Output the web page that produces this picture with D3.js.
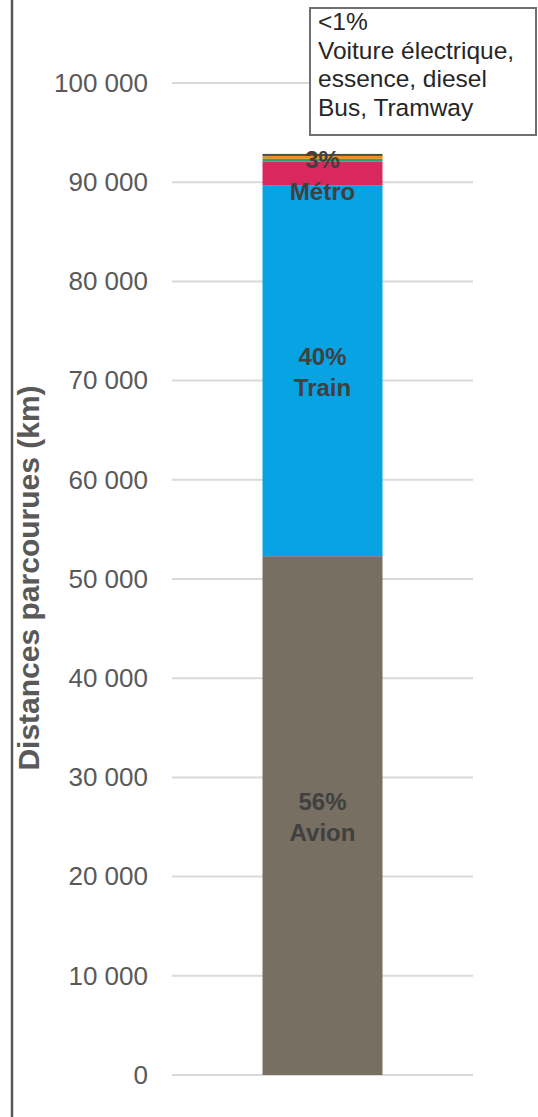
<!DOCTYPE html>
<html>
<head>
<meta charset="utf-8">
<script src="https://cdn.jsdelivr.net/npm/d3@7"></script>
<style>
  body { margin: 0; background: #fff; }
  text { font-family: "Liberation Sans", Arial, sans-serif; }
</style>
</head>
<body>
<script>
// data (km)
var modes = ["Avion", "Train", "Métro", "Bus", "Tramway", "Voiture"];
var distances = [52300, 37400, 2400, 250, 300, 200];
var colors = ["#776f62", "#07a3e2", "#d8285e", "#22a37c", "#e5921f", "#4b4943"];
var yTicks = [0, 10000, 20000, 30000, 40000, 50000, 60000, 70000, 80000, 90000, 100000];

var svgWidth = 538;
var svgHeight = 1117;

var chartMargin = { top: 83, right: 65, bottom: 42, left: 172 };
var chartWidth = svgWidth - chartMargin.left - chartMargin.right;
var chartHeight = svgHeight - chartMargin.top - chartMargin.bottom;

var svg = d3.select("body")
  .append("svg")
  .attr("width", svgWidth)
  .attr("height", svgHeight);

// left frame line
svg.append("line")
  .attr("x1", 12).attr("x2", 12)
  .attr("y1", 0).attr("y2", svgHeight)
  .attr("stroke", "#5e5555")
  .attr("stroke-width", 2.5);

var chartGroup = svg.append("g")
  .attr("transform", `translate(${chartMargin.left}, ${chartMargin.top})`);

var fr = d3.formatLocale({ decimal: ",", thousands: " ", grouping: [3], currency: ["", " €"] });

var xBandScale = d3.scaleBand()
  .domain(["total"])
  .range([0, chartWidth])
  .padding(0.43);

var yLinearScale = d3.scaleLinear()
  .domain([0, 100000])
  .range([chartHeight, 0]);

// gridlines
chartGroup.selectAll(".grid")
  .data(yTicks)
  .enter()
  .append("line")
  .attr("class", "grid")
  .attr("x1", 0)
  .attr("x2", chartWidth)
  .attr("y1", d => yLinearScale(d))
  .attr("y2", d => yLinearScale(d))
  .attr("stroke", "#d9d9d9")
  .attr("stroke-width", 2);

var leftAxis = d3.axisLeft(yLinearScale)
  .tickValues(yTicks)
  .tickFormat(fr.format(","))
  .tickSize(0)
  .tickPadding(24);

var axisG = chartGroup.append("g").call(leftAxis);
axisG.select(".domain").remove();
axisG.selectAll("text")
  .attr("fill", "#595959")
  .style("font-size", "26px")
  .style("font-family", "'Liberation Sans', Arial, sans-serif");

// stacked segments
var total = d3.sum(distances);
var stackData = [];
var acc = 0;
modes.forEach(function(m, i) {
  stackData.push({ mode: m, value: distances[i], y0: acc, y1: acc + distances[i], color: colors[i] });
  acc += distances[i];
});

chartGroup.selectAll(".bar")
  .data(stackData)
  .enter()
  .append("rect")
  .attr("class", "bar")
  .attr("x", xBandScale("total"))
  .attr("width", xBandScale.bandwidth())
  .attr("y", d => yLinearScale(d.y1))
  .attr("height", d => yLinearScale(d.y0) - yLinearScale(d.y1))
  .attr("fill", d => d.color);

// labels inside the bar
var cx = xBandScale("total") + xBandScale.bandwidth() / 2;
var labelled = stackData.slice(0, 3);
labelled.forEach(function(d) {
  var mid = yLinearScale((d.y0 + d.y1) / 2);
  var pct = Math.round(d.value / total * 100) + "%";
  var offTop = -6, offBot = 25;
  if (d.mode === "Métro") { offTop = -5; offBot = 27; }
  chartGroup.append("text")
    .attr("x", cx).attr("y", mid + offTop)
    .attr("text-anchor", "middle")
    .attr("fill", "#404040")
    .style("font-size", "24px")
    .style("font-weight", "bold")
    .text(pct);
  chartGroup.append("text")
    .attr("x", cx).attr("y", mid + offBot)
    .attr("text-anchor", "middle")
    .attr("fill", "#404040")
    .style("font-size", "24px")
    .style("font-weight", "bold")
    .text(d.mode);
});

// axis title
svg.append("text")
  .attr("transform", `translate(39, 578) rotate(-90)`)
  .attr("text-anchor", "middle")
  .attr("fill", "#595959")
  .style("font-size", "30px")
  .style("font-weight", "bold")
  .text("Distances parcourues (km)");

// note box for the small modes
var noteLines = ["<1%", "Voiture électrique,", "essence, diesel", "Bus, Tramway"];
svg.append("rect")
  .attr("x", 310).attr("y", 8)
  .attr("width", 226).attr("height", 127)
  .attr("fill", "#fff")
  .attr("stroke", "#707070")
  .attr("stroke-width", 2);

svg.selectAll(".note")
  .data(noteLines)
  .enter()
  .append("text")
  .attr("class", "note")
  .attr("x", 318)
  .attr("y", (d, i) => 30 + i * 28.5)
  .attr("fill", "#262626")
  .style("font-size", "24.5px")
  .text(d => d);
</script>
</body>
</html>
